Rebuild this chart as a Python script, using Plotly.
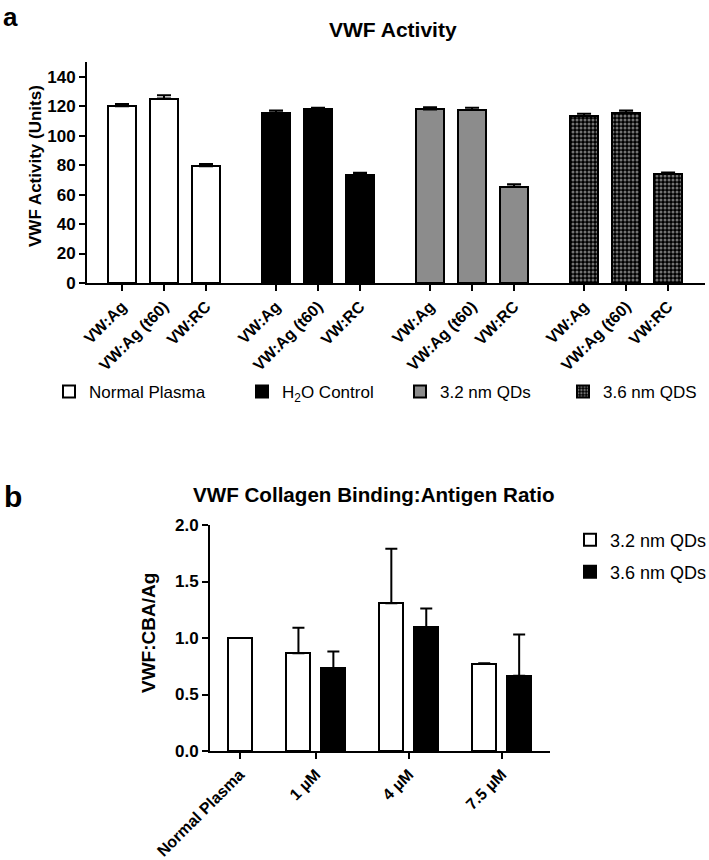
import plotly.graph_objects as go

# ---------------- data: panel a ----------------
assays_a = ["VW:Ag", "VW:Ag (t60)", "VW:RC"]
groups_a = ["Normal Plasma", "H<sub>2</sub>O Control", "3.2 nm QDs", "3.6 nm QDS"]
normal_vals = [120.0, 125.2, 79.3]
normal_err = [1.5, 2.3, 1.5]
h2o_vals = [115.5, 117.8, 73.6]
h2o_err = [1.5, 1.2, 1.3]
qd32_vals = [117.8, 117.4, 65.3]
qd32_err = [1.5, 1.5, 1.8]
qd36_vals = [113.4, 115.6, 74.0]
qd36_err = [1.5, 1.4, 1.0]

# ---------------- data: panel b ----------------
conc_b = ["Normal Plasma", "1 µM", "4 µM", "7.5 µM"]
qd32_b = [1.0, 0.865, 1.307, 0.77]
qd32_b_err = [0.0, 0.225, 0.483, 0.006]
qd36_b = [None, 0.735, 1.095, 0.665]
qd36_b_err = [0.0, 0.145, 0.165, 0.365]
series_b = ["3.2 nm QDs", "3.6 nm QDs"]

W, H = 709, 860
FONT = "Liberation Sans, Arial, Helvetica, sans-serif"

def px_x(p):
    return p / W

def px_y(p):
    return 1 - p / H

fig = go.Figure()

# ---------------- panel a traces ----------------
group_step = 3.667
vals_a = [normal_vals, h2o_vals, qd32_vals, qd36_vals]
errs_a = [normal_err, h2o_err, qd32_err, qd36_err]
fills = [
    dict(color="white"),
    dict(color="black"),
    dict(color="#8c8c8c"),
    dict(color="black", pattern=dict(shape=".", fgcolor="#e6e6e6", bgcolor="black", size=4, solidity=0.45)),
]
legend_keys = ["legend", "legend2", "legend3", "legend4"]
tickvals_a, ticktext_a = [], []
for g, (name, vals, errs, fill) in enumerate(zip(groups_a, vals_a, errs_a, fills)):
    xs = [g * group_step + i for i in range(len(assays_a))]
    tickvals_a += xs
    ticktext_a += assays_a
    marker = dict(line=dict(color="black", width=2), **fill)
    fig.add_trace(go.Bar(
        x=xs, y=vals, name=name, width=0.667, marker=marker,
        error_y=dict(type="data", symmetric=False, array=errs, arrayminus=[0] * len(errs),
                     color="black", thickness=2, width=7),
        xaxis="x", yaxis="y", legend=legend_keys[g], showlegend=True,
    ))

# ---------------- panel b traces ----------------
centers_b = [0.0, 0.82, 1.82, 2.82]
off = 0.188
x_white = [centers_b[0]] + [c - off for c in centers_b[1:]]
x_black = [c + off for c in centers_b]
fig.add_trace(go.Bar(
    x=x_white, y=qd32_b, name=series_b[0], width=0.258,
    marker=dict(color="white", line=dict(color="black", width=2)),
    error_y=dict(type="data", symmetric=False, array=qd32_b_err, arrayminus=[0] * 4,
                 color="black", thickness=2, width=6),
    xaxis="x2", yaxis="y2", legend="legend5", showlegend=True,
))
fig.add_trace(go.Bar(
    x=x_black, y=qd36_b, name=series_b[1], width=0.258,
    marker=dict(color="black", line=dict(color="black", width=2)),
    error_y=dict(type="data", symmetric=False, array=qd36_b_err, arrayminus=[0] * 4,
                 color="black", thickness=2, width=6),
    xaxis="x2", yaxis="y2", legend="legend6", showlegend=True,
))

tickfont = dict(family=FONT, size=17, color="black", weight="bold")
axis_common = dict(showline=True, linecolor="black", linewidth=2, ticks="outside",
                   ticklen=6, tickwidth=2, tickcolor="black", showgrid=False,
                   zeroline=False, mirror=False, automargin=False)

def legend_style(size):
    return dict(orientation="v", bgcolor="rgba(0,0,0,0)", borderwidth=0,
                font=dict(family=FONT, size=size, color="black"),
                xanchor="left", yanchor="middle", visible=True)

text_starts_a = [89, 282, 440, 603]
legends = {}
for key, ts in zip(legend_keys, text_starts_a):
    legends[key] = dict(x=px_x(ts - 40), y=px_y(392), **legend_style(17))
legends["legend5"] = dict(x=px_x(610 - 40), y=px_y(540), **legend_style(18))
legends["legend6"] = dict(x=px_x(610 - 40), y=px_y(572), **legend_style(18))

fig.update_layout(
    width=W, height=H, autosize=False,
    margin=dict(l=0, r=0, t=0, b=0, autoexpand=False),
    paper_bgcolor="white", plot_bgcolor="white",
    barmode="overlay", bargap=0, showlegend=True,
    font=dict(family=FONT, color="black"),
    xaxis=dict(domain=[px_x(87), px_x(705)], range=[-0.833, 13.88], anchor="y",
               tickvals=tickvals_a, ticktext=ticktext_a, tickangle=-45,
               tickfont=dict(family=FONT, size=16, color="black", weight="bold"), **axis_common),
    yaxis=dict(domain=[px_y(283), px_y(62)], range=[0, 150], anchor="x",
               tickvals=[0, 20, 40, 60, 80, 100, 120, 140], tickfont=tickfont, **axis_common),
    xaxis2=dict(domain=[px_x(210), px_x(550)], range=[-0.32, 3.34], anchor="y2",
                tickvals=centers_b, ticktext=conc_b, tickangle=-45,
                tickfont=dict(family=FONT, size=16, color="black", weight="bold"), **axis_common),
    yaxis2=dict(domain=[px_y(751), px_y(525)], range=[0, 2.0], anchor="x2",
                tickvals=[0, 0.5, 1.0, 1.5, 2.0], ticktext=["0.0", "0.5", "1.0", "1.5", "2.0"],
                tickfont=tickfont, **axis_common),
    **legends,
)

annotations = [
    dict(text="<b>a</b>", x=px_x(1), y=1.0, xanchor="left", yanchor="top",
         font=dict(size=26, family=FONT)),
    dict(text="<b>VWF Activity</b>", x=px_x(393), y=px_y(30), xanchor="center", yanchor="middle",
         font=dict(size=21, family=FONT)),
    dict(text="<b>VWF Activity (Units)</b>", x=px_x(35), y=px_y(166), xanchor="center", yanchor="middle",
         textangle=-90, font=dict(size=17, family=FONT)),
    dict(text="<b>b</b>", x=px_x(2), y=px_y(497), xanchor="left", yanchor="middle",
         font=dict(size=30, family=FONT)),
    dict(text="<b>VWF Collagen Binding:Antigen Ratio</b>", x=px_x(374), y=px_y(494),
         xanchor="center", yanchor="middle", font=dict(size=20.6, family=FONT)),
    dict(text="<b>VWF:CBA/Ag</b>", x=px_x(148), y=px_y(633), xanchor="center", yanchor="middle",
         textangle=-90, font=dict(size=19, family=FONT)),
]
for a in annotations:
    a.update(xref="paper", yref="paper", showarrow=False)
fig.update_layout(annotations=annotations)

fig.write_html("out.html", config={"displayModeBar": False},
               post_script="document.body.style.margin='0px';")
